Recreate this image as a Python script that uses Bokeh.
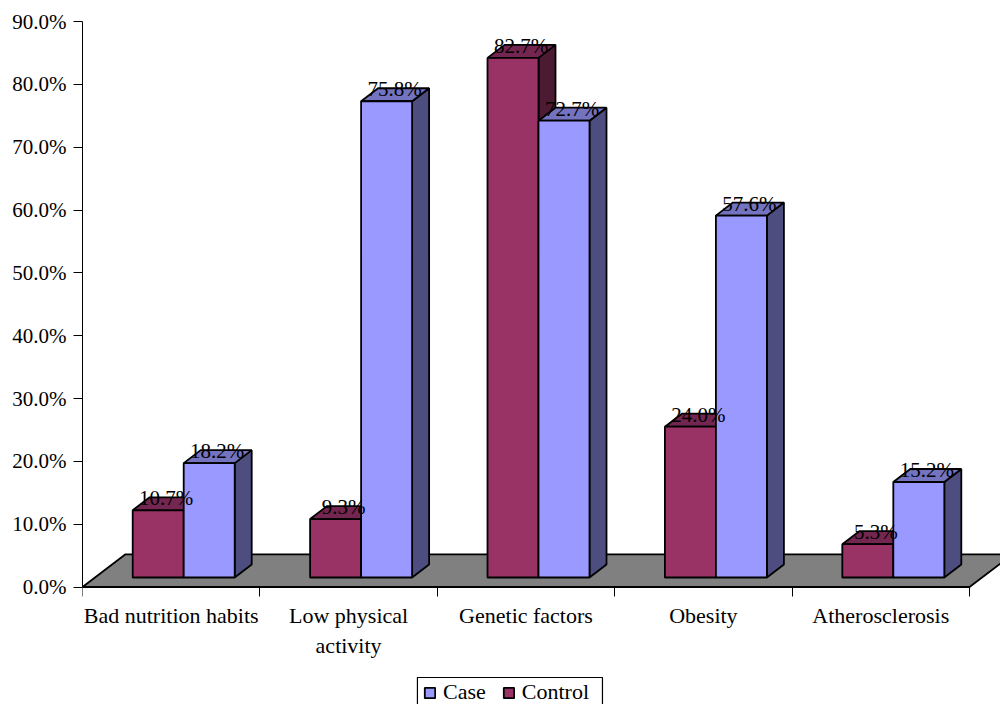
from bokeh.core.properties import value
from bokeh.embed import file_html
from bokeh.models import ColumnDataSource, FixedTicker, Legend, LegendItem, PrintfTickFormatter, Range1d
from bokeh.plotting import figure
from bokeh.resources import INLINE

categories = ["Bad nutrition habits", "Low physical\nactivity", "Genetic factors", "Obesity", "Atherosclerosis"]
control = [10.7, 9.3, 82.7, 24.0, 5.3]
case = [18.2, 75.8, 72.7, 57.6, 15.2]
y_ticks = [0, 10, 20, 30, 40, 50, 60, 70, 80, 90]

FONT = "Liberation Serif"
FONT_SIZE = "21px"
CATEGORY_SIZE = "22px"
OUTLINE = "#000000"
EDGE = 1.8

# 3D extrusion, expressed in axis units (categories on x, percent on y)
BAR_W = 0.2875
BAR_LIFT = 1.51
DEPTH_X = 0.0958
DEPTH_Y = 2.07
FLOOR_X = 0.2424
FLOOR_Y = 5.2
CONTROL_OFFSET = 0.283
CASE_OFFSET = CONTROL_OFFSET + BAR_W

# The frame runs to the bottom of the page so the axis labels and legend live inside it
p = figure(
    width=1000, height=704, output_backend="svg", toolbar_location=None,
    x_range=Range1d(0, 918 / 177.4), y_range=Range1d(-18.7, 90),
    min_border_left=82, min_border_right=0, min_border_top=21, min_border_bottom=0,
    outline_line_color=None,
)
p.grid.visible = False

# Floor plane
p.patch([0, 5, 5 + FLOOR_X, FLOOR_X], [0, 0, FLOOR_Y, FLOOR_Y],
        fill_color="#808080", line_color=OUTLINE, line_width=EDGE)


def draw_series(values, offset, front, top, side):
    left = [i + offset for i in range(len(values))]
    right = [x + BAR_W for x in left]
    tops = [BAR_LIFT + v for v in values]
    p.patches(
        [[r, r + DEPTH_X, r + DEPTH_X, r] for r in right],
        [[BAR_LIFT, BAR_LIFT + DEPTH_Y, t + DEPTH_Y, t] for t in tops],
        fill_color=side, line_color=OUTLINE, line_width=EDGE,
    )
    p.patches(
        [[l, r, r + DEPTH_X, l + DEPTH_X] for l, r in zip(left, right)],
        [[t, t, t + DEPTH_Y, t + DEPTH_Y] for t in tops],
        fill_color=top, line_color=OUTLINE, line_width=EDGE,
    )
    return p.quad(left=left, right=right, bottom=BAR_LIFT, top=tops,
                  fill_color=front, line_color=OUTLINE, line_width=EDGE)


control_bars = draw_series(control, CONTROL_OFFSET, "#993366", "#732650", "#4D1A33")
case_bars = draw_series(case, CASE_OFFSET, "#9999FF", "#7373BF", "#4D4D80")

# Value labels sit over the top faces of the bars
for values, offset in ((control, CONTROL_OFFSET), (case, CASE_OFFSET)):
    src = ColumnDataSource(dict(
        x=[i + offset + BAR_W / 2 for i in range(len(values))],
        y=[BAR_LIFT + v for v in values],
        label=[f"{v:.1f}%" for v in values],
    ))
    p.text("x", "y", text="label", source=src, x_offset=8, y_offset=-12,
           text_align="center", text_baseline="alphabetic",
           text_font=value(FONT), text_font_size=FONT_SIZE, text_color="#000000")

# Axes
yaxis = p.yaxis[0]
yaxis.bounds = (0, 90)
yaxis.ticker = FixedTicker(ticks=y_ticks)
yaxis.formatter = PrintfTickFormatter(format="%.1f%%")
yaxis.major_tick_out = 9
yaxis.major_tick_in = 0
yaxis.minor_tick_out = 0
yaxis.minor_tick_in = 0
yaxis.major_label_standoff = 7
yaxis.major_label_text_font = FONT
yaxis.major_label_text_font_size = FONT_SIZE
yaxis.major_label_text_color = "#000000"
yaxis.axis_line_color = "#000000"
yaxis.major_tick_line_color = "#000000"

xaxis = p.xaxis[0]
xaxis.fixed_location = 0
xaxis.bounds = (0, 5)
xaxis.ticker = FixedTicker(ticks=[i + 0.5 for i in range(5)], minor_ticks=[0, 1, 2, 3, 4, 5])
xaxis.major_label_overrides = {i + 0.5: c for i, c in enumerate(categories)}
xaxis.major_tick_out = 0
xaxis.major_tick_in = 0
xaxis.minor_tick_out = 9
xaxis.minor_tick_in = 0
xaxis.major_label_standoff = 7
xaxis.major_label_text_font = FONT
xaxis.major_label_text_font_size = CATEGORY_SIZE
xaxis.major_label_text_color = "#000000"
xaxis.axis_line_color = "#000000"
xaxis.minor_tick_line_color = "#000000"

# Legend frame, wider than the legend's own fitted box
p.quad(left=1.888, right=2.931, bottom=-19.5, top=-14.4,
       fill_color="#FFFFFF", line_color="#000000", line_width=1.2)

legend = Legend(
    items=[LegendItem(label="Case", renderers=[case_bars]),
           LegendItem(label="Control", renderers=[control_bars])],
    orientation="horizontal", location=(341, -1),
    label_text_font=FONT, label_text_font_size=CATEGORY_SIZE, label_text_color="#000000",
    glyph_width=13, glyph_height=13, label_standoff=7, spacing=16, padding=6, margin=0,
    border_line_color=None, background_fill_alpha=0,
)
p.add_layout(legend, "center")

open("out.html", "w").write(file_html(p, INLINE))
